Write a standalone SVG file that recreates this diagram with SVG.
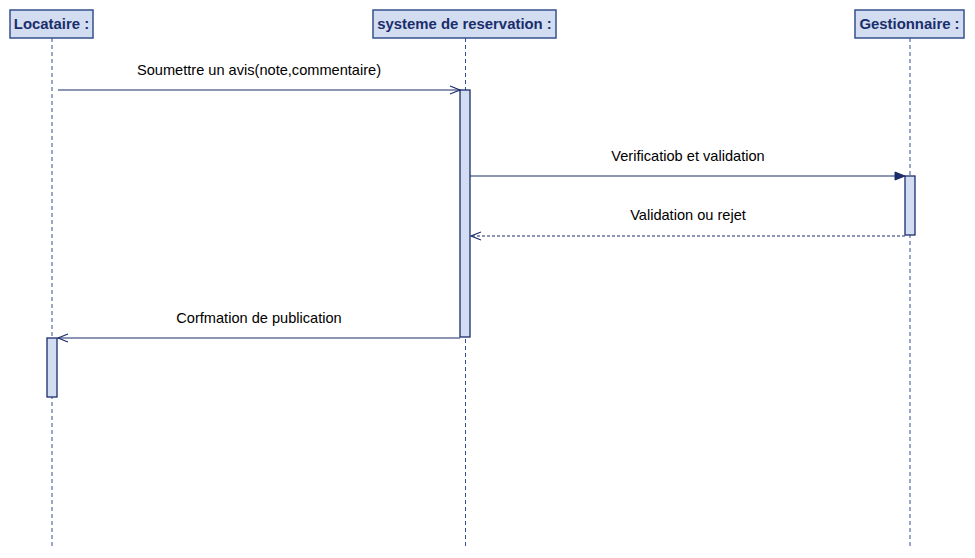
<svg xmlns="http://www.w3.org/2000/svg" width="975" height="558" viewBox="0 0 975 558">
<style>
.hdr{fill:#d2ddf2;stroke:#34508c;stroke-width:1.5}
.ht{font-family:"Liberation Sans",Arial,sans-serif;font-size:14.9px;font-weight:bold;fill:#1b2d6b;text-anchor:middle}
.life{stroke:#34508c;stroke-width:1;stroke-dasharray:4,3;fill:none}
.act{fill:#d2ddf2;stroke:#1b2d6b;stroke-width:1.3}
.msg{stroke:#1b2d6b;stroke-width:1.2;fill:none}
.ret{stroke:#1b2d6b;stroke-width:1.2;fill:none;stroke-dasharray:3,2}
.lbl{font-family:"Liberation Sans",Arial,sans-serif;font-size:14.6px;fill:#000;text-anchor:middle}
</style>
<defs>
<marker id="open" markerWidth="12" markerHeight="10" refX="11" refY="5" orient="auto" markerUnits="userSpaceOnUse">
<path d="M1,1 L11,5 L1,9" fill="none" stroke="#1b2d6b" stroke-width="1.2"/>
</marker>
<marker id="filled" markerWidth="12" markerHeight="10" refX="11" refY="5" orient="auto" markerUnits="userSpaceOnUse">
<path d="M1,1 L11,5 L1,9 Z" fill="#1b2d6b" stroke="#1b2d6b"/>
</marker>
</defs>
<rect width="975" height="558" fill="#fff"/>
<g id="locataire">
<line class="life" x1="52" y1="38" x2="52" y2="548"/>
<rect class="hdr" x="10" y="10" width="83" height="28"/>
<text class="ht" x="51.5" y="29">Locataire :</text>
<rect class="act" x="47" y="338" width="10" height="59"/>
</g>
<g id="systeme">
<line class="life" x1="465.5" y1="38" x2="465.5" y2="548"/>
<rect class="hdr" x="373" y="10" width="183" height="28"/>
<text class="ht" x="464.5" y="29">systeme de reservation :</text>
<rect class="act" x="460" y="90" width="10" height="247"/>
</g>
<g id="gestionnaire">
<line class="life" x1="910" y1="38" x2="910" y2="548"/>
<rect class="hdr" x="855" y="10" width="109" height="28"/>
<text class="ht" x="909.5" y="29">Gestionnaire :</text>
<rect class="act" x="905" y="176" width="10" height="59"/>
</g>
<g id="connectors">
<line class="msg" x1="58" y1="90" x2="460" y2="90" marker-end="url(#open)"/>
<text class="lbl" x="259" y="75">Soumettre un avis(note,commentaire)</text>
<line class="msg" x1="470" y1="176" x2="905" y2="176" marker-end="url(#filled)"/>
<text class="lbl" x="688" y="161">Verificatiob et validation</text>
<line class="ret" x1="905" y1="236" x2="471" y2="236" marker-end="url(#open)"/>
<text class="lbl" x="688" y="220">Validation ou rejet</text>
<line class="msg" x1="460" y1="338" x2="58" y2="338" marker-end="url(#open)"/>
<text class="lbl" x="259" y="323">Corfmation de publication</text>
</g>
</svg>
